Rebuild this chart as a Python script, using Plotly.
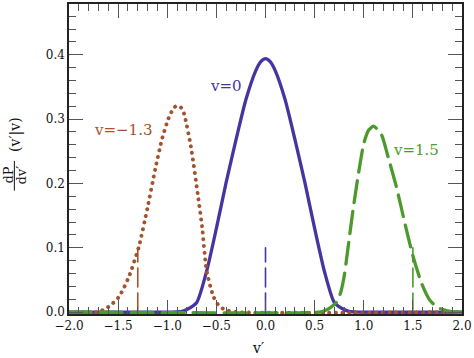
import plotly.graph_objects as go

# ---- data ----
brown_x = [-2.0, -1.72, -1.66, -1.58, -1.49, -1.39, -1.29, -1.20, -1.12, -1.05, -0.98, -0.93, -0.90,
           -0.86, -0.83, -0.76, -0.69, -0.645, -0.60, -0.53, -0.47, -0.40, -0.30, 2.0]
brown_y = [0.0, 0.0, 0.003, 0.010, 0.024, 0.055, 0.101, 0.163, 0.224, 0.271, 0.304, 0.318, 0.321,
           0.318, 0.309, 0.258, 0.184, 0.132, 0.065, 0.024, 0.009, 0.003, 0.0, 0.0]

blue_x = [-2.0, -0.95, -0.85, -0.80, -0.70, -0.60, -0.50, -0.40, -0.30, -0.20, -0.10, -0.05, 0.0,
          0.05, 0.10, 0.20, 0.30, 0.40, 0.50, 0.60, 0.70, 0.80, 0.85, 0.95, 2.0]
blue_y = [0.0, 0.0, 0.001, 0.004, 0.015, 0.063, 0.130, 0.202, 0.268, 0.330, 0.375, 0.389, 0.394,
          0.389, 0.375, 0.330, 0.268, 0.202, 0.130, 0.063, 0.015, 0.004, 0.001, 0.0, 0.0]

green_x = [-2.0, 0.55, 0.60, 0.66, 0.72, 0.76, 0.80, 0.84, 0.89, 0.945, 1.00, 1.05, 1.10,
           1.18, 1.25, 1.335, 1.42, 1.505, 1.59, 1.67, 1.75, 1.85, 1.95, 2.0]
green_y = [0.0, 0.0, 0.002, 0.007, 0.015, 0.028, 0.055, 0.100, 0.158, 0.214, 0.262, 0.283, 0.289,
           0.276, 0.240, 0.193, 0.137, 0.085, 0.044, 0.019, 0.007, 0.002, 0.0, 0.0]

v_values = [-1.3, 0.0, 1.5]
v_labels = ["v=−1.3", "v=0", "v=1.5"]
marker_height = 0.1

BROWN = "#a3532e"
BLUE = "#4634a0"
GREEN = "#4c9a2c"
colors = [BROWN, BLUE, GREEN]
FONT = "DejaVu Serif"

fig = go.Figure()
fig.add_trace(go.Scatter(x=blue_x, y=blue_y, mode="lines", line=dict(color=BLUE, width=3.3, shape="spline", smoothing=0.6)))
fig.add_trace(go.Scatter(x=brown_x, y=brown_y, mode="lines", line=dict(color=BROWN, width=3.9, dash="0.1px,6.6px", shape="spline", smoothing=0.6)))
fig.add_trace(go.Scatter(x=green_x, y=green_y, mode="lines", line=dict(color=GREEN, width=3.3, dash="22px,9px", shape="spline", smoothing=0.6)))

for v, c in zip(v_values, colors):
    fig.add_trace(go.Scatter(x=[v, v], y=[0, marker_height], mode="lines",
                             line=dict(color=c, width=1.6, dash="19px,6px")))

label_pos = [(-1.45, 0.283), (-0.40, 0.352), (1.527, 0.252)]
for (lx, ly), t, c in zip(label_pos, v_labels, colors):
    fig.add_annotation(x=lx, y=ly, text=t, showarrow=False, xanchor="center", yanchor="middle",
                       font=dict(family=FONT, size=15, color=c))

# axis titles
fig.add_annotation(xref="paper", yref="paper", x=0.482, y=-0.11, text="v′", showarrow=False, borderpad=0,
                   font=dict(family=FONT, size=14, color="#111"), xanchor="center", yanchor="middle")
fig.add_annotation(xref="paper", yref="paper", x=-0.138, y=0.58, text="(v′|v)", showarrow=False,
                   textangle=-90, font=dict(family=FONT, size=14, color="#111"), xanchor="center", yanchor="middle")
fig.add_annotation(xref="paper", yref="paper", x=-0.155, y=0.447, text="dP", showarrow=False, borderpad=0,
                   textangle=-90, font=dict(family=FONT, size=13, color="#111"), xanchor="center", yanchor="middle")
fig.add_annotation(xref="paper", yref="paper", x=-0.122, y=0.447, text="dv′", showarrow=False, borderpad=0,
                   textangle=-90, font=dict(family=FONT, size=13, color="#111"), xanchor="center", yanchor="middle")
fig.add_shape(type="line", xref="paper", yref="paper", x0=-0.139, x1=-0.139, y0=0.398, y1=0.494,
              line=dict(color="#111", width=1))

axis_common = dict(showline=True, linecolor="#222", linewidth=1.5, mirror="ticks", ticks="inside",
                   tickcolor="#555", tickwidth=1.2, ticklen=14, showgrid=False, zeroline=False,
                   tickformat=".1f", tickfont=dict(family=FONT, size=12, color="#111"))

fig.update_xaxes(range=[-2, 2], tick0=-2, dtick=0.5,
                 minor=dict(ticks="inside", ticklen=7, dtick=0.1, tickcolor="#555", tickwidth=1.2, showgrid=False),
                 **axis_common)
fig.update_yaxes(range=[-0.003, 0.479], tick0=0, dtick=0.1,
                 minor=dict(ticks="inside", ticklen=7, dtick=0.02, tickcolor="#555", tickwidth=1.2, showgrid=False),
                 **axis_common)

fig.update_layout(width=474, height=358, margin=dict(l=69, r=11, t=2, b=44),
                  plot_bgcolor="white", paper_bgcolor="white", showlegend=False)

fig.write_html("out.html", config={"displayModeBar": False},
               post_script="var s=document.createElement('style');s.innerHTML='body{margin:0;}.js-line{stroke-linecap:round;}';document.head.appendChild(s);")
